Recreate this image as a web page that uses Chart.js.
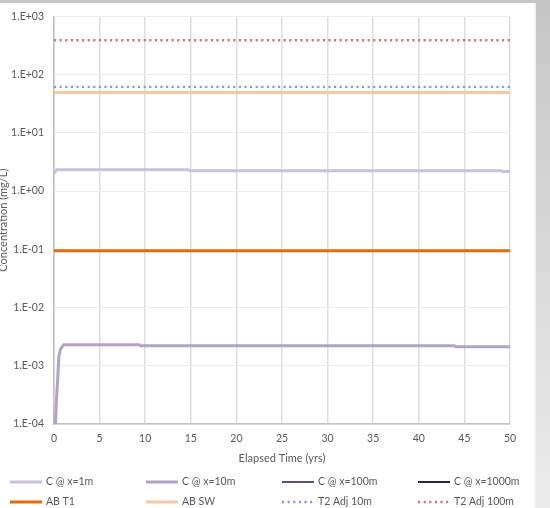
<!DOCTYPE html>
<html>
<head>
<meta charset="utf-8">
<script src="https://cdn.jsdelivr.net/npm/chart.js@4/dist/chart.umd.min.js"></script>
<style>
  html, body { margin: 0; padding: 0; }
  body { width: 550px; height: 508px; overflow: hidden; position: relative;
         background: linear-gradient(to bottom, #c6c6c6, #ececec); }
  #panel { position: absolute; left: 0; top: 3px; width: 534px; height: 505px; background: #fff;
           border-right: 2px solid #f2f2f2; }
  #wrap { position: absolute; left: 0; top: 0; width: 550px; height: 508px; }
</style>
</head>
<body>
<div id="panel"></div>
<div id="wrap"><canvas id="concChart" width="550" height="508"></canvas></div>
<script>
// series (time in yrs, concentration in mg/L)
const c1Time = [0, 0.3, 14.7, 14.9, 49.0, 49.2, 50];
const c1Conc = [2.0, 2.33, 2.33, 2.24, 2.24, 2.17, 2.17];

const c10Time = [0.1, 0.16, 0.27, 0.42, 0.53, 0.71, 1.07, 9.3, 9.5, 43.9, 44.1, 50];
const c10Conc = [5e-5, 1e-4, 2.6e-4, 6.5e-4, 1.43e-3, 1.93e-3, 2.3e-3, 2.3e-3, 2.2e-3, 2.2e-3, 2.12e-3, 2.12e-3];

// C @ x=100m and C @ x=1000m stay below the plotted range
const c100Time = [];
const c100Conc = [];
const c1000Time = [];
const c1000Conc = [];

const limitTime = [0, 50];
const abT1 = [0.094, 0.094];
const abSW = [49, 49];
const t2Adj10 = [61.5, 61.5];
const t2Adj100 = [388, 388];

const xTicks = [0, 5, 10, 15, 20, 25, 30, 35, 40, 45, 50];
const yTicks = [1e-4, 1e-3, 1e-2, 1e-1, 1e0, 1e1, 1e2, 1e3];

const seriesNames = ['C @ x=1m', 'C @ x=10m', 'C @ x=100m', 'C @ x=1000m', 'AB T1', 'AB SW', 'T2 Adj 10m', 'T2 Adj 100m'];

function pts(t, v) {
    return t.map((x, i) => ({ x: x, y: v[i] }));
}

function sciLabel(v) {
    const e = Math.round(Math.log10(v));
    return '1.E' + (e < 0 ? '-' : '+') + String(Math.abs(e)).padStart(2, '0');
}

const FONT = 'Lato';
const TXT = '#595959';

function line(label, data, color, width, dash) {
    return {
        label: label,
        data: data,
        borderColor: color,
        backgroundColor: color,
        borderWidth: width,
        borderDash: dash || [],
        pointRadius: 0,
        tension: 0,
        fill: false
    };
}

// legend drawn as a 4 x 2 grid like the original
const gridLegend = {
    id: 'gridLegend',
    afterDraw(chart) {
        const c = chart.ctx;
        c.save();
        c.font = '10.5px ' + FONT;
        c.textBaseline = 'middle';
        chart.data.datasets.forEach((ds, i) => {
            const x = 10 + (i % 4) * 136;
            const y = 482 + Math.floor(i / 4) * 20;
            c.strokeStyle = ds.borderColor;
            c.lineWidth = ds.borderWidth;
            c.setLineDash(ds.borderDash);
            c.beginPath();
            c.moveTo(x, y);
            c.lineTo(x + 32, y);
            c.stroke();
            c.setLineDash([]);
            c.fillStyle = TXT;
            c.fillText(ds.label, x + 36, y);
        });
        c.restore();
    }
};

new Chart(document.getElementById('concChart').getContext('2d'), {
    type: 'line',
    data: {
        datasets: [
            line(seriesNames[0], pts(c1Time, c1Conc), '#ccc1da', 3),
            line(seriesNames[1], pts(c10Time, c10Conc), '#b3a2c7', 3),
            line(seriesNames[2], pts(c100Time, c100Conc), '#604a7b', 2),
            line(seriesNames[3], pts(c1000Time, c1000Conc), '#2f2542', 2),
            line(seriesNames[4], pts(limitTime, abT1), '#e46c0a', 3),
            line(seriesNames[5], pts(limitTime, abSW), '#fac7a0', 3),
            line(seriesNames[6], pts(limitTime, t2Adj10), '#7f9fd3', 2.3, [2.2, 3.4]),
            line(seriesNames[7], pts(limitTime, t2Adj100), '#d47373', 2.3, [2.2, 3.4])
        ]
    },
    options: {
        responsive: false,
        animation: false,
        layout: { padding: { left: 0, right: 40, top: 16, bottom: 0 } },
        plugins: { legend: { display: false }, tooltip: { enabled: false } },
        scales: {
            x: {
                type: 'linear',
                min: 0,
                max: 50,
                afterBuildTicks: s => { s.ticks = xTicks.map(v => ({ value: v })); },
                afterFit: s => { s.height = 84; },
                ticks: { color: TXT, font: { family: FONT, size: 10.5 }, padding: 8, maxRotation: 0 },
                grid: { color: '#dedede', lineWidth: 1.5, drawTicks: false },
                border: { color: '#c4c4c4', width: 1.5 },
                title: {
                    display: true, text: 'Elapsed Time (yrs)', color: TXT,
                    font: { family: FONT, size: 11 }, padding: { top: 0, bottom: 43.4 }
                }
            },
            y: {
                type: 'logarithmic',
                min: 1e-4,
                max: 1e3,
                afterBuildTicks: s => { s.ticks = yTicks.map(v => ({ value: v })); },
                afterFit: s => { s.width = 54; },
                ticks: { color: TXT, font: { family: FONT, size: 10.5 }, padding: 10, callback: v => sciLabel(v) },
                grid: { color: '#eeede4', lineWidth: 1, drawTicks: false },
                border: { color: '#bfbfbf', width: 1.5 },
                title: {
                    display: true, text: 'Concentration (mg/L)', color: TXT,
                    font: { family: FONT, size: 11 }, padding: { top: -3, bottom: 0 }
                }
            }
        }
    },
    plugins: [gridLegend]
});
</script>
</body>
</html>
